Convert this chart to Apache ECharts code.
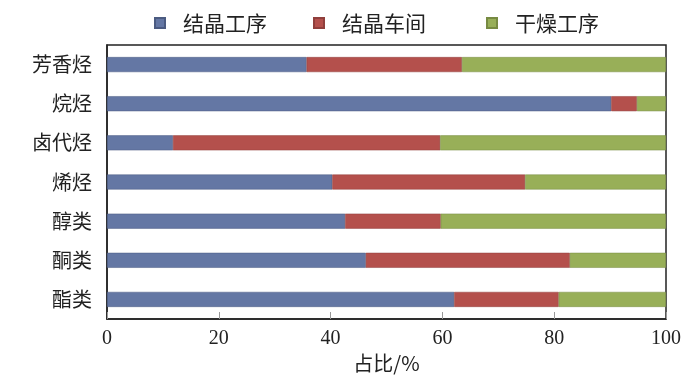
<!DOCTYPE html>
<html><head><meta charset="utf-8">
<script src="https://cdn.jsdelivr.net/npm/echarts@6/dist/echarts.min.js"></script>
<style>html,body{margin:0;padding:0;background:#fff}#c{width:700px;height:384px}</style>
</head><body><div id="c"></div>
<script>
const categories = ['芳香烃','烷烃','卤代烃','烯烃','醇类','酮类','酯类'];
const seriesNames = ['结晶工序','结晶车间','干燥工序'];
const crystalProcess = [35.7, 90.2, 11.8, 40.3, 42.6, 46.3, 62.1];
const crystalWorkshop = [27.8, 4.6, 47.8, 34.5, 17.1, 36.5, 18.7];
const dryingProcess = [36.5, 5.2, 40.4, 25.2, 40.3, 17.2, 19.2];
const xTicks = [0, 20, 40, 60, 80, 100];

const colors = ['#6477A4', '#B4504C', '#98AF58'];
const cjk = '"Noto Sans CJK SC", "Liberation Serif", serif';
const num = '"Liberation Serif", "Times New Roman", serif';
const values = [crystalProcess, crystalWorkshop, dryingProcess];
const legendLefts = [154, 313, 486];

const chart = echarts.init(document.getElementById('c'));
chart.setOption({
  animation: false,
  color: colors,
  legend: seriesNames.map((n, i) => ({
    top: 12, left: legendLefts[i], padding: 0,
    itemWidth: 10, itemHeight: 10,
    icon: 'rect',
    textStyle: { fontFamily: cjk, fontSize: 21, lineHeight: 22, color: '#222', padding: [0,0,0,13] },
    data: [n]
  })),
  grid: { left: 107, right: 34, top: 45, bottom: 65, show: true, borderColor: '#222', borderWidth: 1.5, containLabel: false },
  xAxis: {
    type: 'value', min: xTicks[0], max: xTicks[xTicks.length-1], interval: 20,
    name: '占比/%', nameLocation: 'middle', nameGap: 34,
    nameTextStyle: { fontFamily: cjk, fontSize: 20, color: '#222' },
    axisLine: { show: true, lineStyle: { color: '#222', width: 1.5 } },
    axisTick: { show: true, inside: true, length: 7, lineStyle: { color: '#999' } },
    axisLabel: { fontFamily: num, fontSize: 20, color: '#222', margin: 10 },
    splitLine: { show: false }
  },
  yAxis: {
    type: 'category', inverse: true, data: categories,
    axisLine: { show: true, lineStyle: { color: '#222', width: 1.5 } },
    axisTick: { show: false },
    axisLabel: { fontFamily: cjk, fontSize: 20, color: '#222', margin: 15 }
  },
  series: seriesNames.map((n, i) => ({
    name: n, type: 'bar', stack: 'total', barWidth: 15,
    itemStyle: { color: colors[i], borderColor: echarts.color.modifyHSL(colors[i], null, null, 0.4), borderWidth: 0.5 },
    data: values[i]
  }))
});
</script></body></html>
